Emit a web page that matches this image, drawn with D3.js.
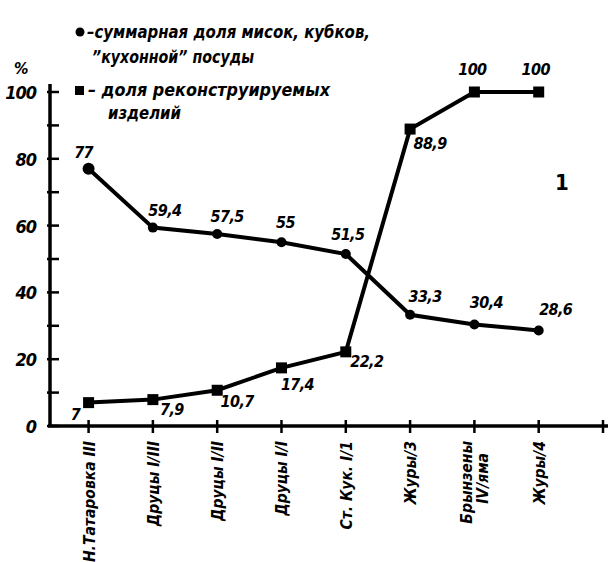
<!DOCTYPE html>
<html>
<head>
<meta charset="utf-8">
<script src="https://cdn.jsdelivr.net/npm/d3@7"></script>
<style>
  body { margin: 0; background: #fff; }
  text { font-family: "DejaVu Sans Condensed", "DejaVu Sans", sans-serif;
         font-stretch: condensed;
         font-style: italic; font-weight: bold; fill: #000; }
</style>
</head>
<body>
<div id="chart"></div>
<script>
// Data
var categories = ["Н.Татаровка III", "Друцы I/III", "Друцы I/II", "Друцы I/I",
                  "Ст. Кук. I/1", "Журы/3", "Брынзены|IV/яма", "Журы/4"];
var bowlsShare = [77, 59.4, 57.5, 55, 51.5, 33.3, 30.4, 28.6];
var reconShare = [7, 7.9, 10.7, 17.4, 22.2, 88.9, 100, 100];
var yTicks = [0, 20, 40, 60, 80, 100];
var yMinorTicks = [10, 30, 50, 70, 90];

var width = 608, height = 562;

var svg = d3.select("#chart")
  .append("svg")
    .attr("width", width)
    .attr("height", height);

// Scales
var x = d3.scaleLinear().domain([-0.6, 8]).range([50, 603]);
var y = d3.scaleLinear().domain([0, 100]).range([426, 92]);

var fmt = function(v) { return String(v).replace(".", ","); };

// Y axis
svg.append("line")
  .attr("x1", 50).attr("x2", 50)
  .attr("y1", y(0) + 1).attr("y2", y(100) - 8)
  .attr("stroke", "#000").attr("stroke-width", 3.5);

svg.selectAll(".ytick")
  .data(yTicks.concat(yMinorTicks))
  .enter().append("line")
    .attr("x1", 47).attr("x2", 59)
    .attr("y1", function(d) { return y(d); })
    .attr("y2", function(d) { return y(d); })
    .attr("stroke", "#000").attr("stroke-width", 2.5);

svg.selectAll(".ylab")
  .data(yTicks)
  .enter().append("text")
    .attr("x", 36)
    .attr("y", function(d) { return y(d) + 7; })
    .attr("text-anchor", "end")
    .attr("font-size", 18)
    .attr("letter-spacing", -1)
    .text(function(d) { return d; });

svg.append("text")
  .attr("x", 14).attr("y", 74)
  .attr("font-size", 16)
  .text("%");

// X axis
svg.append("line")
  .attr("x1", 48).attr("x2", 608)
  .attr("y1", y(0)).attr("y2", y(0))
  .attr("stroke", "#000").attr("stroke-width", 3.5);

svg.selectAll(".xtick")
  .data(d3.range(9))
  .enter().append("line")
    .attr("x1", function(d) { return x(d); })
    .attr("x2", function(d) { return x(d); })
    .attr("y1", y(0) - 6).attr("y2", y(0) + 7)
    .attr("stroke", "#000").attr("stroke-width", 2.5);

// Category labels (rotated)
var cat = svg.selectAll(".xlab")
  .data(categories)
  .enter().append("text")
    .attr("font-size", 15.5)
    .attr("text-anchor", "end")
    .attr("transform", function(d, i) {
      return "translate(" + (x(i) + 6) + "," + 441 + ") rotate(-90)";
    });
cat.each(function(d) {
  var parts = d.split("|");
  var t = d3.select(this);
  parts.forEach(function(p, k) {
    t.append("tspan")
      .attr("x", k === 0 ? 0 : -12)
      .attr("dy", k === 0 ? (parts.length > 1 ? -8 : 0) : 16)
      .text(p);
  });
});

// Lines
var line = d3.line()
  .x(function(d, i) { return x(i); })
  .y(function(d) { return y(d); });

svg.append("path")
  .datum(bowlsShare)
  .attr("fill", "none").attr("stroke", "#000").attr("stroke-width", 4)
  .attr("d", line);

svg.append("path")
  .datum(reconShare)
  .attr("fill", "none").attr("stroke", "#000").attr("stroke-width", 4)
  .attr("d", line);

// Markers
svg.selectAll(".dot")
  .data(bowlsShare)
  .enter().append("circle")
    .attr("cx", function(d, i) { return x(i); })
    .attr("cy", function(d) { return y(d); })
    .attr("r", function(d, i) { return i === 0 ? 6 : 5; })
    .attr("fill", "#000");

svg.selectAll(".sq")
  .data(reconShare)
  .enter().append("rect")
    .attr("x", function(d, i) { return x(i) - 5.5; })
    .attr("y", function(d) { return y(d) - 5.5; })
    .attr("width", 11).attr("height", 11)
    .attr("fill", "#000");

// Value labels: offsets relative to point
var bowlsOffsets = [[-5, -11], [12, -12], [10, -12], [4, -14], [2, -14], [15, -13], [12, -16], [17, -15]];
var reconOffsets = [[-13, 17], [19, 15], [20, 17], [16, 22], [21, 15], [20, 20], [-2, -17], [-3, -17]];

svg.selectAll(".blab")
  .data(bowlsShare)
  .enter().append("text")
    .attr("x", function(d, i) { return x(i) + bowlsOffsets[i][0]; })
    .attr("y", function(d, i) { return y(d) + bowlsOffsets[i][1]; })
    .attr("text-anchor", "middle")
    .attr("font-size", 16)
    .attr("letter-spacing", -0.6)
    .text(fmt);

svg.selectAll(".rlab")
  .data(reconShare)
  .enter().append("text")
    .attr("x", function(d, i) { return x(i) + reconOffsets[i][0]; })
    .attr("y", function(d, i) { return y(d) + reconOffsets[i][1]; })
    .attr("text-anchor", "middle")
    .attr("font-size", 16)
    .attr("letter-spacing", -0.6)
    .text(fmt);

// Panel number
svg.append("text")
  .attr("x", 555).attr("y", 190)
  .attr("font-size", 22)
  .style("font-style", "normal")
  .text("1");

// Legend
svg.append("circle").attr("cx", 80).attr("cy", 32).attr("r", 4.5).attr("fill", "#000");
svg.append("text").attr("x", 87).attr("y", 38).attr("font-size", 17)
  .attr("textLength", 283).attr("lengthAdjust", "spacingAndGlyphs")
  .text("–суммарная доля мисок, кубков,");
svg.append("text").attr("x", 92).attr("y", 63).attr("font-size", 17)
  .attr("textLength", 162).attr("lengthAdjust", "spacingAndGlyphs")
  .text("”кухонной” посуды");
svg.append("rect").attr("x", 75).attr("y", 86).attr("width", 9).attr("height", 9).attr("fill", "#000");
svg.append("text").attr("x", 88).attr("y", 96).attr("font-size", 17)
  .attr("textLength", 242).attr("lengthAdjust", "spacingAndGlyphs")
  .text("– доля  реконструируемых");
svg.append("text").attr("x", 108).attr("y", 119).attr("font-size", 17)
  .attr("textLength", 73).attr("lengthAdjust", "spacingAndGlyphs")
  .text("изделий");
</script>
</body>
</html>
